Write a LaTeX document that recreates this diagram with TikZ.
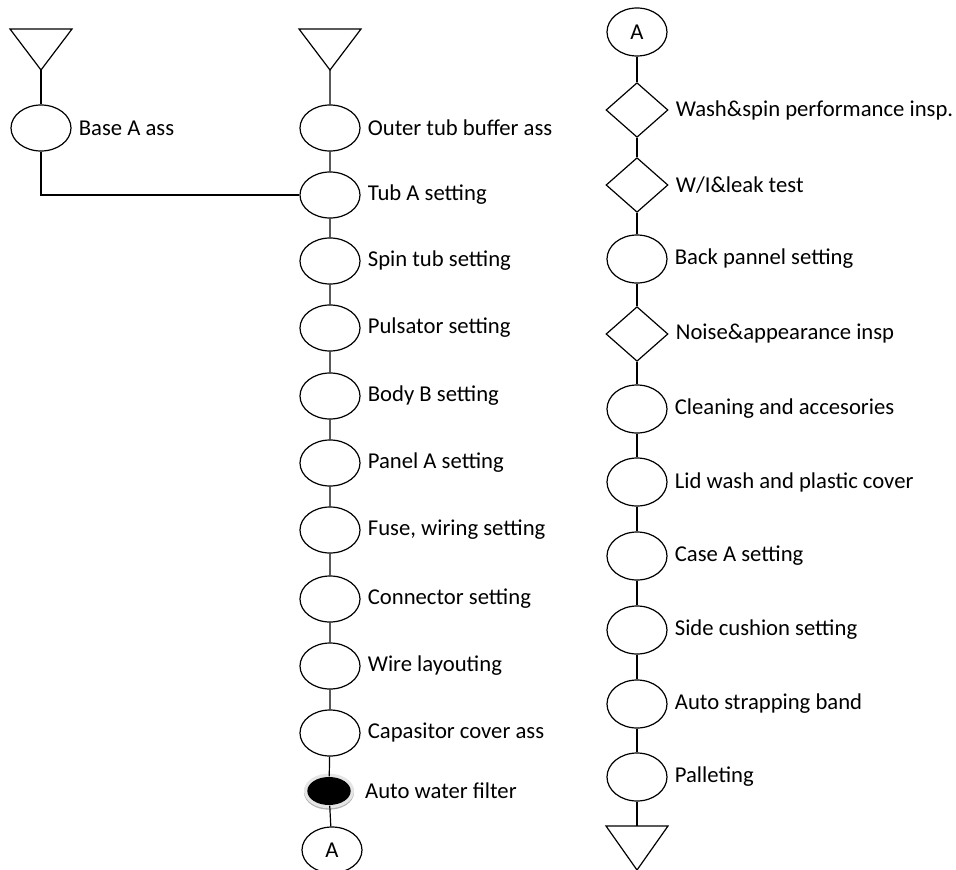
\documentclass[tikz,border=0pt]{standalone}
\usepackage{fontspec}
\setmainfont{Carlito}
\usetikzlibrary{shapes.geometric, positioning}
\tikzset{
  proc/.style = {draw, ellipse, inner sep=0pt, minimum width=45pt, minimum height=34.5pt},
  insp/.style = {draw, diamond, inner sep=0pt, minimum width=46.5pt, minimum height=41pt},
  filt/.style = {ellipse, fill=black, inner sep=0pt, minimum width=32.5pt, minimum height=21pt,
                 preaction={draw=black!30, line width=5pt, transform canvas={yshift=-1pt}},
                 preaction={draw=black!10, line width=5pt}},
  lbl/.style = {inner sep=0pt, font=\fontsize{17}{20}\selectfont}
}

\begin{document}
\begin{tikzpicture}[x=0.75pt, y=-0.75pt, line width=0.9pt]
  \useasboundingbox (0,0) rectangle (956,870);

  % base line
  \draw (10,29) -- (72,29) -- (41,70) coordinate (in1) -- cycle;
  \node[proc] (base) at (41,128) {};
  \node[lbl, right=5pt of base] (baseT) {Base A ass};

  % main line
  \draw (299,29) -- (361,29) -- (330,70) coordinate (in2) -- cycle;
  \node[proc] (outer) at (330,128) {};
  \node[proc] (tuba) at (330,195) {};
  \node[proc] (spin) at (330,261) {};
  \node[proc] (puls) at (330,328) {};
  \node[proc] (body) at (330,396) {};
  \node[proc] (panel) at (330,463) {};
  \node[proc] (fuse) at (330,530) {};
  \node[proc] (conn) at (330,599) {};
  \node[proc] (wire) at (330,666) {};
  \node[proc] (cap) at (330,733) {};
  \node[filt] (filter) at (329,791) {};
  \node[proc, lbl, draw, minimum width=45pt, minimum height=34.5pt] (offA) at (332,850) {A};

  \node[lbl, right=5pt of outer] (outerT) {Outer tub buffer ass};
  \node[lbl, right=5pt of tuba] (tubaT) {Tub A setting};
  \node[lbl, right=5pt of spin] (spinT) {Spin tub setting};
  \node[lbl, right=5pt of puls] (pulsT) {Pulsator setting};
  \node[lbl, right=5pt of body] (bodyT) {Body B setting};
  \node[lbl, right=5pt of panel] (panelT) {Panel A setting};
  \node[lbl, right=5pt of fuse] (fuseT) {Fuse, wiring setting};
  \node[lbl, right=5pt of conn] (connT) {Connector setting};
  \node[lbl, right=5pt of wire] (wireT) {Wire layouting};
  \node[lbl, right=5pt of cap] (capT) {Capasitor cover ass};
  \node[lbl, right=10pt of filter] (filterT) {Auto water filter};

  \draw (in1) -- (base);
  \draw (base.south) |- (tuba.west);
  \draw (in2) -- (outer) -- (tuba) -- (spin) -- (puls) -- (body) -- (panel) -- (fuse)
        -- (conn) -- (wire) -- (cap) -- (filter) -- (offA);

  % final line
  \node[proc, lbl, minimum height=36pt] (onA) at (637,32) {A};
  \node[insp] (wash) at (637,110) {};
  \node[insp] (leak) at (637,185) {};
  \node[proc, minimum height=36pt] (back) at (637,259) {};
  \node[insp] (noise) at (637,334) {};
  \node[proc, minimum height=36pt] (clean) at (637,409) {};
  \node[proc, minimum height=36pt] (lid) at (637,482) {};
  \node[proc, minimum height=36pt] (case) at (637,556) {};
  \node[proc, minimum height=36pt] (side) at (637,630) {};
  \node[proc, minimum height=36pt] (strap) at (637,704) {};
  \node[proc, minimum height=36pt] (pallet) at (637,777) {};
  \draw (606,826) -- (637,826) coordinate (out3) -- (668,826) -- (637,870) -- cycle;

  \node[lbl, right=5pt of wash] (washT) {Wash\&spin performance insp.};
  \node[lbl, right=5pt of leak] (leakT) {W/I\&leak test};
  \node[lbl, right=5pt of back] (backT) {Back pannel setting};
  \node[lbl, right=5pt of noise] (noiseT) {Noise\&appearance insp};
  \node[lbl, right=5pt of clean] (cleanT) {Cleaning and accesories};
  \node[lbl, right=5pt of lid] (lidT) {Lid wash and plastic cover};
  \node[lbl, right=5pt of case] (caseT) {Case A setting};
  \node[lbl, right=5pt of side] (sideT) {Side cushion setting};
  \node[lbl, right=5pt of strap] (strapT) {Auto strapping band};
  \node[lbl, right=5pt of pallet] (palletT) {Palleting};

  \draw (onA) -- (wash) -- (leak) -- (back) -- (noise) -- (clean) -- (lid) -- (case)
        -- (side) -- (strap) -- (pallet) -- (out3);
\end{tikzpicture}
\end{document}
